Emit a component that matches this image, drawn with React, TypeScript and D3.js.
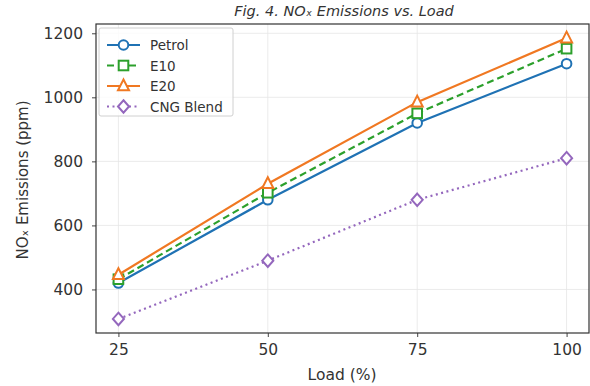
import React, { useEffect, useRef } from "react";
import * as d3 from "d3";

const loads = [25, 50, 75, 100];
const petrol = [420, 680, 920, 1105];
const e10 = [432, 702, 950, 1152];
const e20 = [446, 730, 985, 1185];
const cng = [308, 490, 680, 810];

const seriesNames = ["Petrol", "E10", "E20", "CNG Blend"];
const seriesColors = ["#1f72b4", "#2ca02c", "#f07822", "#9467bd"];
const seriesDash = ["", "7,4", "", "2,3.5"];
const seriesMarker = ["circle", "square", "triangle", "diamond"];
const yTicks = [400, 600, 800, 1000, 1200];

const W = 590;
const H = 386;

const App: React.FC = () => {
  const svgRef = useRef<SVGSVGElement>(null);

  useEffect(() => {
    if (!svgRef.current) return;
    const svg = d3.select(svgRef.current);
    svg.selectAll("*").remove();

    const m = { left: 96, right: 1, top: 24, bottom: 53 };
    const x = d3.scaleLinear().domain([21.25, 103.75]).range([m.left, W - m.right]);
    const y = d3.scaleLinear().domain([264, 1229]).range([H - m.bottom, m.top]);
    const font = "DejaVu Sans, sans-serif";

    // grid
    const grid = svg.append("g");
    loads.forEach((v) =>
      grid.append("line").attr("x1", x(v)).attr("x2", x(v)).attr("y1", m.top).attr("y2", H - m.bottom)
        .attr("stroke", "#e6e6e6").attr("stroke-width", 0.8)
    );
    yTicks.forEach((v) =>
      grid.append("line").attr("x1", m.left).attr("x2", W - m.right).attr("y1", y(v)).attr("y2", y(v))
        .attr("stroke", "#e6e6e6").attr("stroke-width", 0.8)
    );

    // axes
    const xAxis = svg.append("g").attr("transform", `translate(0,${H - m.bottom})`)
      .call(d3.axisBottom(x).tickValues(loads).tickFormat(d3.format("d")).tickSize(4).tickPadding(7));
    const yAxis = svg.append("g").attr("transform", `translate(${m.left},0)`)
      .call(d3.axisLeft(y).tickValues(yTicks).tickFormat(d3.format("d")).tickSize(4).tickPadding(9));
    [xAxis, yAxis].forEach((a) => {
      a.select(".domain").remove();
      a.selectAll("line").attr("stroke", "#444");
      a.selectAll("text").attr("font-family", font).attr("font-size", 15.5).attr("fill", "#333");
    });

    const allSeries = [petrol, e10, e20, cng];

    const marker = (g: any, kind: string, cx: number, cy: number, color: string) => {
      const s = 4.8;
      if (kind === "circle") {
        g.append("circle").attr("cx", cx).attr("cy", cy).attr("r", s);
      } else if (kind === "square") {
        g.append("rect").attr("x", cx - s).attr("y", cy - s).attr("width", 2 * s).attr("height", 2 * s);
      } else if (kind === "triangle") {
        g.append("path").attr("d", `M${cx},${cy - s * 1.35}L${cx + s * 1.15},${cy + s * 0.9}L${cx - s * 1.15},${cy + s * 0.9}Z`);
      } else {
        g.append("path").attr("d", `M${cx},${cy - s * 1.3}L${cx + s * 1.15},${cy}L${cx},${cy + s * 1.3}L${cx - s * 1.15},${cy}Z`);
      }
      g.selectAll("*").attr("fill", "white").attr("stroke", color).attr("stroke-width", 2);
    };

    const line = d3.line<number>().x((_, i) => x(loads[i])).y((d) => y(d));

    allSeries.forEach((vals, si) => {
      svg.append("path").attr("d", line(vals)).attr("fill", "none")
        .attr("stroke", seriesColors[si]).attr("stroke-width", 2.2)
        .attr("stroke-dasharray", seriesDash[si] || null);
      vals.forEach((v, i) => {
        const g = svg.append("g");
        marker(g, seriesMarker[si], x(loads[i]), y(v), seriesColors[si]);
      });
    });

    // spines
    svg.append("rect").attr("x", m.left).attr("y", m.top)
      .attr("width", W - m.right - m.left).attr("height", H - m.bottom - m.top)
      .attr("fill", "none").attr("stroke", "#333").attr("stroke-width", 1.2);

    // legend
    const lg = svg.append("g");
    lg.append("rect").attr("x", 99).attr("y", 28).attr("width", 134).attr("height", 88).attr("rx", 2)
      .attr("fill", "white").attr("fill-opacity", 0.8).attr("stroke", "#d0d0d0");
    seriesNames.forEach((name, si) => {
      const ly = 45 + si * 20.5;
      lg.append("line").attr("x1", 107).attr("x2", 140).attr("y1", ly).attr("y2", ly)
        .attr("stroke", seriesColors[si]).attr("stroke-width", 2.2)
        .attr("stroke-dasharray", seriesDash[si] || null);
      marker(lg.append("g"), seriesMarker[si], 123.5, ly, seriesColors[si]);
      lg.append("text").attr("x", 150).attr("y", ly + 5).text(name)
        .attr("font-family", font).attr("font-size", 13.5).attr("fill", "#333");
    });

    // labels
    svg.append("text").attr("x", 344).attr("y", 16).attr("text-anchor", "middle")
      .attr("font-family", font).attr("font-size", 14.5).attr("font-style", "italic").attr("fill", "#333")
      .text("Fig. 4. NOₓ Emissions vs. Load");
    svg.append("text").attr("x", 342).attr("y", 380).attr("text-anchor", "middle")
      .attr("font-family", font).attr("font-size", 15.5).attr("fill", "#333").text("Load (%)");
    svg.append("text").attr("transform", `translate(28,180) rotate(-90)`)
      .attr("text-anchor", "middle").attr("font-family", font).attr("font-size", 15).attr("fill", "#333")
      .text("NOₓ Emissions (ppm)");
  }, []);

  return (
    <svg ref={svgRef} width={W} height={H}
      style={{ position: "absolute", left: 0, top: 0, background: "white" }} />
  );
};

export default App;
